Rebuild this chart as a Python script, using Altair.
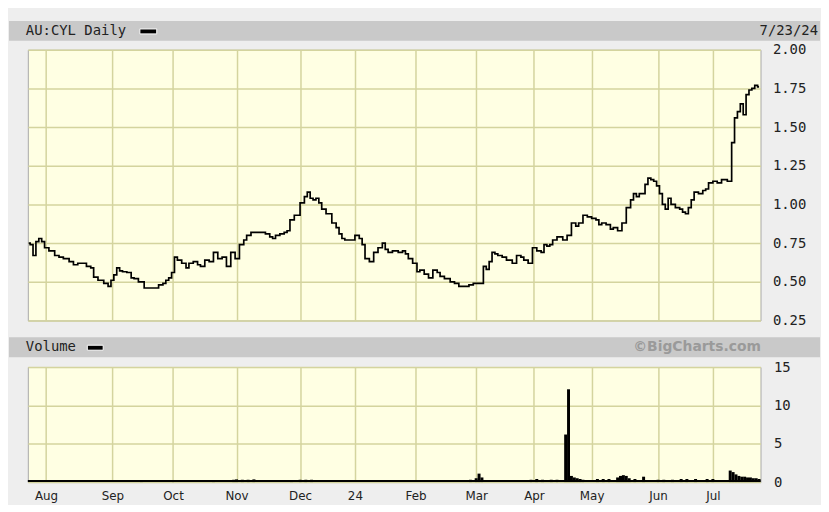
import altair as alt
import pandas as pd

# trading-day index (0 = 24 Jul 2023, last = 23 Jul 2024) and price (AUD)
price_day = [0, 1, 2, 3, 4, 5, 6, 8, 10, 11, 13, 15, 16, 18, 19, 21, 22, 23, 25, 27,
             28, 29, 30, 31, 32, 33, 35, 36, 37, 39, 41, 42, 44, 46, 47, 48, 49, 50, 51, 52,
             54, 55, 56, 58, 59, 60, 62, 63, 65, 66, 68, 69, 71, 72, 74, 75, 76, 78, 79, 81,
             83, 84, 85, 86, 88, 89, 90, 91, 93, 95, 96, 97, 98, 99, 100, 101, 102, 104, 106, 107,
             108, 109, 110, 111, 112, 114, 115, 116, 117, 119, 120, 122, 123, 124, 125, 127, 129, 130, 131, 132,
             134, 135, 136, 138, 139, 141, 142, 143, 145, 147, 148, 150, 152, 153, 155, 156, 157, 158, 159, 160,
             161, 162, 163, 165, 166, 167, 168, 170, 171, 172, 174, 175, 177, 178, 179, 180, 181, 182, 184, 186,
             187, 189, 190, 191, 193, 194, 196, 197, 198, 199, 201, 202, 203, 205, 206, 208, 209, 210, 211, 212,
             213, 214, 215, 216, 217, 218, 219, 220, 221, 222, 223, 225, 226, 227, 228, 229, 230, 231, 233, 234,
             235, 236, 238, 239, 241, 243, 244, 245, 246, 247, 248, 249, 250, 251, 252, 253]
price_close = [0.75, 0.74, 0.67, 0.76, 0.78, 0.76, 0.72, 0.70, 0.67, 0.66, 0.65, 0.63, 0.61, 0.62, 0.62, 0.60, 0.59, 0.53, 0.51, 0.49,
               0.47, 0.51, 0.545, 0.59, 0.57, 0.565, 0.56, 0.525, 0.52, 0.50, 0.46, 0.46, 0.46, 0.48, 0.49, 0.51, 0.525, 0.56, 0.66, 0.64,
               0.62, 0.59, 0.62, 0.63, 0.61, 0.60, 0.64, 0.63, 0.69, 0.65, 0.66, 0.60, 0.69, 0.65, 0.74, 0.77, 0.80, 0.82, 0.82, 0.82,
               0.81, 0.79, 0.78, 0.80, 0.81, 0.82, 0.83, 0.90, 0.93, 1.01, 1.05, 1.08, 1.04, 1.03, 1.04, 1.01, 0.97, 0.94, 0.88, 0.85,
               0.81, 0.78, 0.77, 0.77, 0.77, 0.80, 0.78, 0.74, 0.65, 0.63, 0.69, 0.72, 0.75, 0.71, 0.69, 0.70, 0.69, 0.70, 0.68, 0.65,
               0.62, 0.565, 0.575, 0.55, 0.525, 0.575, 0.56, 0.535, 0.52, 0.50, 0.49, 0.47, 0.47, 0.48, 0.49, 0.49, 0.49, 0.60, 0.58, 0.63,
               0.69, 0.68, 0.67, 0.66, 0.64, 0.64, 0.62, 0.67, 0.66, 0.64, 0.62, 0.72, 0.70, 0.69, 0.74, 0.73, 0.74, 0.77, 0.79, 0.77,
               0.80, 0.88, 0.86, 0.88, 0.93, 0.92, 0.91, 0.90, 0.87, 0.88, 0.87, 0.84, 0.85, 0.83, 0.88, 0.98, 1.03, 1.07, 1.05, 1.07,
               1.07, 1.13, 1.17, 1.16, 1.15, 1.12, 1.07, 1.00, 0.97, 1.04, 1.00, 0.98, 0.97, 0.95, 0.94, 0.98, 1.03, 1.08, 1.07, 1.09,
               1.10, 1.14, 1.15, 1.14, 1.16, 1.15, 1.40, 1.56, 1.60, 1.65, 1.58, 1.71, 1.74, 1.75, 1.77, 1.76]

# volume (millions of shares) on the days where a bar is visible
vol_day = [39, 50, 64, 71, 72, 74, 76, 78, 91, 94, 96, 98, 153, 155, 156, 157,
           174, 176, 178, 181, 183, 186, 187, 188, 189, 190, 191, 192, 197, 199, 201,
           204, 205, 206, 207, 208, 210, 213, 218, 220, 223, 226, 228, 231, 235, 237,
           243, 244, 245, 246, 247, 248, 249, 250, 251, 252, 253]
vol_value = [0.2, 0.15, 0.2, 0.3, 0.35, 0.3, 0.3, 0.35, 0.25, 0.3, 0.3, 0.3, 0.3, 0.5, 1.1, 0.6,
             0.3, 0.4, 0.3, 0.3, 0.3, 6.2, 12.1, 0.8, 0.6, 0.5, 0.4, 0.3, 0.4, 0.4, 0.4,
             0.6, 0.8, 0.9, 0.8, 0.5, 0.4, 0.7, 0.3, 0.3, 0.3, 0.4, 0.4, 0.4, 0.4, 0.4,
             1.5, 1.3, 1.0, 0.8, 0.7, 0.7, 0.6, 0.6, 0.5, 0.5, 0.4]

month_day = [6, 29, 50, 72, 94, 113, 134, 155, 175, 195, 218, 237]
month_label = ["Aug", "Sep", "Oct", "Nov", "Dec", "24", "Feb", "Mar", "Apr", "May", "Jun", "Jul"]
price_ticks = [0.25, 0.5, 0.75, 1.0, 1.25, 1.5, 1.75, 2.0]
vol_ticks = [0, 5, 10, 15]

W = 739
H_PRICE = 273
H_VOL = 116
X_DOMAIN = [-0.3, 253.5]
BAND = "#c9c9c9"
MONO = "DejaVu Sans Mono"
SANS = "DejaVu Sans"

price_df = pd.DataFrame({"day": price_day, "close": price_close})
vol_df = pd.DataFrame({"day": vol_day, "vol": vol_value})

xscale = alt.Scale(domain=X_DOMAIN, nice=False, zero=False, padding=0)
label_expr = ("[" + ",".join(f"'{m}'" for m in month_label) + "][indexof(["
              + ",".join(str(d) for d in month_day) + "], datum.value)]")


def one(**kw):
    return alt.Chart(pd.DataFrame({k: [v] for k, v in kw.items()} if kw else {"a": [0]}))


# ---------- price panel ----------
price_line = alt.Chart(price_df).mark_line(interpolate="step", color="black", strokeWidth=1.7).encode(
    x=alt.X("day:Q", scale=xscale,
            axis=alt.Axis(values=month_day, labels=False, ticks=False, domain=False, grid=True, title=None)),
    y=alt.Y("close:Q", scale=alt.Scale(domain=[0.25, 2.0], nice=False, zero=False),
            axis=alt.Axis(orient="right", values=price_ticks, format=".2f", ticks=False, domain=False,
                          labelPadding=12, title=None, grid=True, labelFont=MONO, labelFontSize=14)),
)
p_band = one().mark_rect(color=BAND).encode(
    x=alt.value(-19), x2=alt.value(799), y=alt.value(-29), y2=alt.value(-9))
p_title = one(t="AU:CYL Daily").mark_text(align="left", baseline="middle", font=MONO, fontSize=14,
                                          color="#222").encode(x=alt.value(-2), y=alt.value(-19), text="t:N")
p_dash = one().mark_rect(color="black", stroke="white", strokeWidth=1).encode(
    x=alt.value(113), x2=alt.value(130), y=alt.value(-21), y2=alt.value(-16))
p_date = one(t="7/23/24").mark_text(align="right", baseline="middle", font=MONO, fontSize=14,
                                     color="#222").encode(x=alt.value(797), y=alt.value(-19), text="t:N")
price_chart = alt.layer(p_band, p_title, p_dash, p_date, price_line).properties(width=W, height=H_PRICE)

# ---------- volume panel ----------
vol_bars = alt.Chart(vol_df).mark_bar(color="black", size=3).encode(
    x=alt.X("day:Q", scale=xscale,
            axis=alt.Axis(values=month_day, labelExpr=label_expr, ticks=False, domain=False, grid=True,
                          title=None, labelPadding=9, labelFont=SANS, labelFontSize=12, labelFlush=False)),
    y=alt.Y("vol:Q", scale=alt.Scale(domain=[0, 15], nice=False),
            axis=alt.Axis(orient="right", values=vol_ticks, ticks=False, domain=False, labelPadding=13,
                          title=None, grid=True, labelFont=MONO, labelFontSize=14)),
)
v_base = one().mark_rule(color="black", strokeWidth=2).encode(
    x=alt.value(0), x2=alt.value(W), y=alt.value(H_VOL - 1))
v_band = one().mark_rect(color=BAND).encode(
    x=alt.value(-19), x2=alt.value(799), y=alt.value(-30), y2=alt.value(-10))
v_title = one(t="Volume").mark_text(align="left", baseline="middle", font=MONO, fontSize=14,
                                    color="#222").encode(x=alt.value(-2), y=alt.value(-20), text="t:N")
v_dash = one().mark_rect(color="black", stroke="white", strokeWidth=1).encode(
    x=alt.value(60), x2=alt.value(76), y=alt.value(-22), y2=alt.value(-17))
v_brand = one(t="©BigCharts.com").mark_text(align="center", baseline="middle", font=SANS, fontSize=14,
                                            fontWeight="bold", color="#9a9a9a").encode(
    x=alt.value(675), y=alt.value(-20), text="t:N")
vol_chart = alt.layer(v_band, v_title, v_dash, v_brand, vol_bars, v_base).properties(width=W, height=H_VOL)

chart = alt.vconcat(price_chart, vol_chart, spacing=8).properties(
    padding={"left": 0, "top": 10, "right": 0, "bottom": 0}
).configure(background="#eeeeee").configure_view(
    fill="#ffffe3", stroke="#a8a8a8", strokeWidth=1
).configure_axis(
    gridColor="#d4d49e", gridWidth=1.5, labelColor="#222222", labelOverlap=False
)

chart.save("out.html", embed_options={"renderer": "svg", "actions": False})
